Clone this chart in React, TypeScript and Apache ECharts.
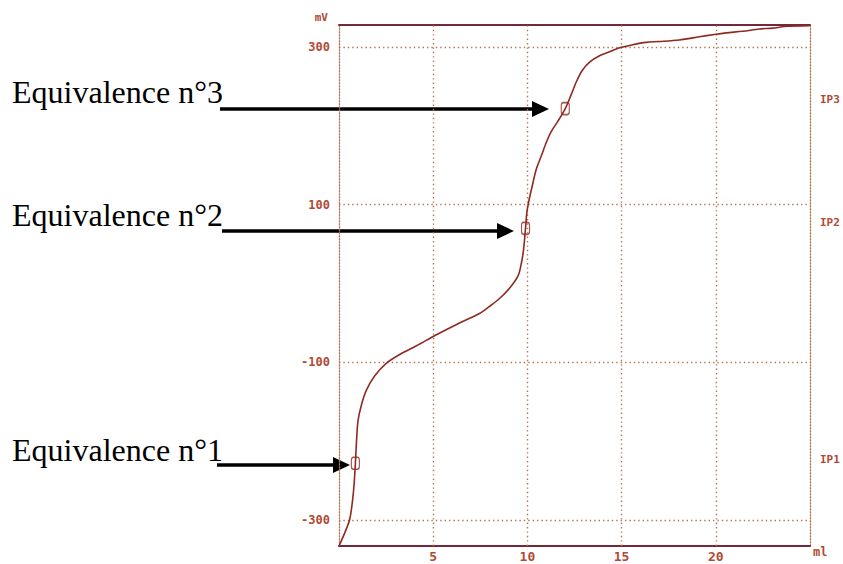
import React, { useEffect, useRef } from "react";
import * as echarts from "echarts";

// Titration curve: volume (ml) vs potential (mV)
const volumes = [
  0, 0.31, 0.57, 0.72, 0.8, 0.87, 0.93, 1.01, 1.19, 1.46, 1.9, 2.52, 3.22, 4.11,
  5.17, 6.4, 7.46, 7.99, 8.52, 9.05, 9.51, 9.69, 9.8, 9.9, 9.97, 10.08, 10.26,
  10.47, 10.74, 11.0, 11.27, 11.62, 12.01, 12.33, 12.6, 12.9, 13.3, 13.83,
  14.36, 14.89, 15.59, 16.3, 17.0, 18.06, 19.12, 19.92, 20.55, 21.43, 22.31,
  23.02, 23.64, 24.97,
];
const potentials = [
  -333, -316, -299, -275, -255, -228, -200, -174, -154, -135, -117, -101, -90,
  -79, -65, -50, -38, -29, -19, -6, 10, 27, 44, 70, 90, 105, 124, 145, 162, 179,
  193, 206, 222, 240, 256, 270, 281, 289, 294, 299, 303, 306, 307, 309, 313, 316,
  318, 320, 323, 324, 326, 327,
];

const equivVolumes = [0.87, 9.9, 12.01];
const equivPotentials = [-228, 70, 222];
const equivNames = ["Equivalence n°1", "Equivalence n°2", "Equivalence n°3"];

const ipNames = ["IP1", "IP2", "IP3"];
const ipPotentials = [-223, 77, 233];

const yTicks = [-300, -100, 100, 300];
const xTicks = [5, 10, 15, 20];

const LABEL_COLOR = "#b04a34";
const GRID_COLOR = "#b87450";
const CURVE_COLOR = "#8e2a22";
const FRAME_COLOR = "#74283a";
const NUM_FONT = "'DejaVu Sans Mono', monospace";

export default function App() {
  const ref = useRef<HTMLDivElement>(null);

  useEffect(() => {
    if (!ref.current) return;
    const chart = echarts.init(ref.current, undefined, { renderer: "svg" });

    const curve = volumes.map((v, i) => [v, potentials[i]]);
    const eqPts = equivVolumes.map((v, i) => [v, equivPotentials[i]]);

    const gridLines = [
      ...yTicks.map((v) => ({ yAxis: v })),
      ...xTicks.map((v) => ({ xAxis: v })),
    ];

    const serif = "'Liberation Serif', 'Times New Roman', serif";
    const arrow = (x1: number, x2: number, y: number) => [
      {
        type: "line",
        shape: { x1, y1: y, x2: x2 - 16, y2: y },
        style: { stroke: "#000", lineWidth: 3.5 },
      },
      {
        type: "polygon",
        shape: {
          points: [
            [x2 - 17, y - 8],
            [x2, y],
            [x2 - 17, y + 8],
          ],
        },
        style: { fill: "#000" },
      },
    ];

    chart.setOption({
      animation: false,
      backgroundColor: "#fff",
      grid: { left: 339, right: 33, top: 25, bottom: 18, containLabel: false },
      xAxis: [
        {
          type: "value",
          min: 0,
          max: 25,
          position: "bottom",
          axisLine: {
            show: true,
            onZero: false,
            lineStyle: { color: FRAME_COLOR, width: 2 },
          },
          axisTick: { show: false },
          splitLine: { show: false },
          axisLabel: {
            customValues: xTicks,
            color: LABEL_COLOR,
            fontFamily: NUM_FONT,
            fontWeight: "bold",
            fontSize: 13,
            margin: 4,
          },
          name: "ml",
          nameLocation: "end",
          nameGap: 3,
          nameTextStyle: {
            color: LABEL_COLOR,
            fontFamily: NUM_FONT,
            fontWeight: "bold",
            fontSize: 12,
            verticalAlign: "top",
          },
        },
        {
          type: "value",
          min: 0,
          max: 25,
          position: "top",
          axisLine: {
            show: true,
            onZero: false,
            lineStyle: { color: FRAME_COLOR, width: 2 },
          },
          axisTick: { show: false },
          axisLabel: { show: false },
          splitLine: { show: false },
        },
      ],
      yAxis: [
        {
          type: "value",
          min: -333,
          max: 328,
          position: "left",
          axisLine: {
            show: true,
            onZero: false,
            lineStyle: { color: GRID_COLOR, width: 1.3, type: [1.3, 1.7] },
          },
          axisTick: { show: false },
          splitLine: { show: false },
          axisLabel: {
            customValues: yTicks,
            color: LABEL_COLOR,
            fontFamily: NUM_FONT,
            fontWeight: "bold",
            fontSize: 12,
            margin: 9,
          },
          name: "mV",
          nameLocation: "end",
          nameGap: 2,
          nameTextStyle: {
            color: LABEL_COLOR,
            fontFamily: NUM_FONT,
            fontWeight: "bold",
            fontSize: 11,
            align: "right",
            verticalAlign: "bottom",
            padding: [0, 11, 0, 0],
          },
        },
        {
          type: "value",
          min: -333,
          max: 328,
          position: "right",
          axisLine: {
            show: true,
            onZero: false,
            lineStyle: { color: GRID_COLOR, width: 1.3, type: [1.3, 1.7] },
          },
          axisTick: { show: false },
          splitLine: { show: false },
          axisLabel: {
            customValues: ipPotentials,
            formatter: (v: number) => {
              const i = ipPotentials.indexOf(v);
              return i >= 0 ? ipNames[i] : "";
            },
            color: LABEL_COLOR,
            fontFamily: NUM_FONT,
            fontWeight: "bold",
            fontSize: 11,
            margin: 10,
          },
        },
      ],
      series: [
        {
          type: "line",
          data: curve,
          xAxisIndex: 0,
          yAxisIndex: 0,
          showSymbol: false,
          smooth: 0.3,
          lineStyle: { color: CURVE_COLOR, width: 1.6 },
          z: 3,
          markLine: {
            silent: true,
            symbol: ["none", "none"],
            label: { show: false },
            lineStyle: { color: GRID_COLOR, width: 1.4, type: [1.4, 3] },
            data: gridLines,
            z: 1,
          },
        },
        {
          type: "scatter",
          data: eqPts,
          xAxisIndex: 0,
          yAxisIndex: 0,
          symbol: "roundRect",
          symbolSize: [8, 12],
          itemStyle: {
            color: "rgba(255,255,255,0)",
            borderColor: CURVE_COLOR,
            borderWidth: 1.4,
          },
          z: 4,
        },
      ],
      graphic: [
        {
          type: "text",
          left: 12,
          top: 76,
          style: { text: equivNames[2], font: `32px ${serif}`, fill: "#000" },
        },
        {
          type: "text",
          left: 12,
          top: 199,
          style: { text: equivNames[1], font: `32px ${serif}`, fill: "#000" },
        },
        {
          type: "text",
          left: 12,
          top: 434,
          style: { text: equivNames[0], font: `32px ${serif}`, fill: "#000" },
        },
        ...arrow(220, 549, 109),
        ...arrow(222, 514, 231),
        ...arrow(217, 350, 465),
      ],
    });

    return () => chart.dispose();
  }, []);

  return (
    <div
      ref={ref}
      style={{
        position: "fixed",
        left: 0,
        top: 0,
        width: 843,
        height: 564,
        background: "#fff",
      }}
    />
  );
}
